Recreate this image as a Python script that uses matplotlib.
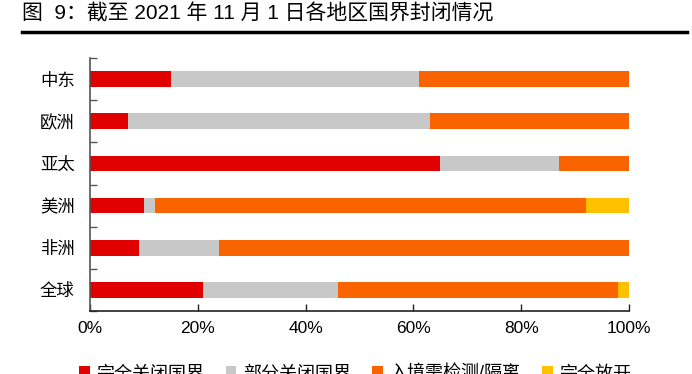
import matplotlib
matplotlib.use("Agg")
import matplotlib.pyplot as plt
import numpy as np
from matplotlib.lines import Line2D
from matplotlib.patches import Patch

plt.rcParams["font.family"] = ["Liberation Sans", "Noto Sans CJK SC", "DejaVu Sans"]

# data (share of countries, %), bottom to top
regions = ["全球", "非洲", "美洲", "亚太", "欧洲", "中东"]
full_closed = [21, 9, 10, 65, 7, 15]
part_closed = [25, 15, 2, 22, 56, 46]
test_quarantine = [52, 76, 80, 13, 37, 39]
full_open = [2, 0, 8, 0, 0, 0]

series_names = ["完全关闭国界", "部分关闭国界", "入境需检测/隔离", "完全放开"]
colors = ["#E00000", "#C8C8C8", "#FA6400", "#FFC000"]
title = "图  9：截至 2021 年 11 月 1 日各地区国界封闭情况"

fig = plt.figure(figsize=(6.92, 3.74), dpi=100)
ax = fig.add_axes([90 / 692, 63 / 374, 539 / 692, 253 / 374])

y = np.arange(len(regions))
left = np.zeros(len(regions))
for vals, c, name in zip([full_closed, part_closed, test_quarantine, full_open], colors, series_names):
    ax.barh(y, vals, left=left, height=0.37, color=c, edgecolor="none", label=name)
    left += np.array(vals)

ax.set_xlim(0, 100)
ax.set_ylim(-0.5, len(regions) - 0.5)
ax.set_xticks(np.arange(0, 101, 20))
ax.set_xticklabels([f"{v}%" for v in range(0, 101, 20)], fontsize=12.5)
ax.tick_params(axis="x", direction="in", length=5, width=1, pad=7, color="#222222")

ax.set_yticks(y)
ax.set_yticklabels(regions, fontsize=12.5)
ax.tick_params(axis="y", which="major", length=0, pad=11)
ax.set_yticks(np.arange(-0.5, len(regions), 1), minor=True)
ax.tick_params(axis="y", which="minor", direction="in", length=5, width=1, color="#555555")

for s in ["top", "right"]:
    ax.spines[s].set_visible(False)
ax.spines["left"].set_color("#555555")
ax.spines["left"].set_linewidth(1.2)
ax.spines["bottom"].set_color("#222222")
ax.spines["bottom"].set_linewidth(1.2)

# title with underline
fig.text(22 / 692, 1 - 14 / 374, title, fontsize=15, va="center", ha="left")
fig.add_artist(Line2D([22 / 692, 687 / 692], [1 - 32 / 374, 1 - 32 / 374],
                      color="black", linewidth=2.5, transform=fig.transFigure))

handles = [Patch(facecolor=c, edgecolor="none") for c in colors]
fig.legend(handles, series_names, loc="center", bbox_to_anchor=(355 / 692, 1 - 374 / 374),
           ncol=4, frameon=False, fontsize=13, handlelength=0.6, handleheight=0.6,
           handletextpad=0.35, columnspacing=1.2)

fig.savefig("out.png", dpi=100)
